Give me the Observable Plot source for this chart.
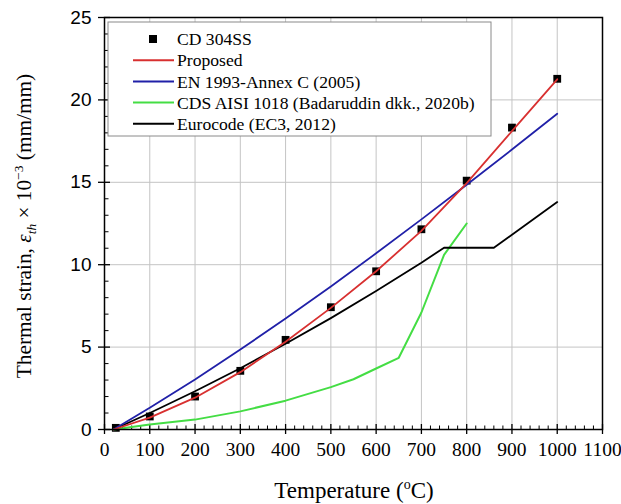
<!DOCTYPE html>
<html><head><meta charset="utf-8">
<script src="https://cdn.jsdelivr.net/npm/d3@7"></script>
<script src="https://cdn.jsdelivr.net/npm/@observablehq/plot@0.6"></script>
<style>body{margin:0;background:#fff}</style>
</head><body><div id="chart"></div>
<script>
// ---- data ----
const seriesNames = ["CD 304SS", "Proposed", "EN 1993-Annex C (2005)", "CDS AISI 1018 (Badaruddin dkk., 2020b)", "Eurocode (EC3, 2012)"];
const seriesColors = ["#000000", "#d83030", "#2020a8", "#44dd44", "#000000"];

const cdTemp = [25, 100, 200, 300, 400, 500, 600, 700, 800, 900, 1000];
const cdStrain = [0.1, 0.79, 2.0, 3.56, 5.44, 7.42, 9.6, 12.15, 15.1, 18.32, 21.28];

const propTemp = [20, 100, 200, 300, 400, 500, 600, 700, 800, 900, 1000];
const propStrain = [0, 0.72, 1.93, 3.48, 5.33, 7.38, 9.6, 12.05, 14.95, 18.1, 21.25];

const enTemp = [20, 100, 200, 300, 400, 500, 600, 700, 800, 900, 1000];
const enStrain = [0, 1.32, 3.04, 4.85, 6.73, 8.68, 10.69, 12.75, 14.85, 16.99, 19.16];

const cdsTemp = [20, 100, 200, 300, 400, 500, 550, 600, 650, 700, 750, 800];
const cdsStrain = [0, 0.3, 0.6, 1.1, 1.75, 2.57, 3.05, 3.7, 4.35, 7.1, 10.6, 12.5];

const ecTemp = [20, 100, 200, 300, 400, 500, 600, 700, 750, 860, 1000];
const ecStrain = [0, 1.0, 2.32, 3.72, 5.2, 6.76, 8.4, 10.12, 11.03, 11.03, 13.8];

const xMajor = [0, 100, 200, 300, 400, 500, 600, 700, 800, 900, 1000, 1100];
const xMinor = d3.range(0, 1101, 20).filter(v => v % 100 !== 0);
const yMajor = [0, 5, 10, 15, 20, 25];
const yMinor = d3.range(0, 25.01, 1).filter(v => v % 5 !== 0);

const toRows = (xs, ys) => xs.map((x, i) => ({x, y: ys[i]}));

const serif = "'Liberation Serif', 'Times New Roman', serif";
const sans = "'Liberation Sans', Arial, sans-serif";

const chart = Plot.plot({
  width: 621, height: 504,
  marginLeft: 104, marginRight: 19, marginTop: 17, marginBottom: 75,
  x: {domain: [0, 1100]},
  y: {domain: [0, 25]},
  style: {background: "white", color: "black"},
  marks: [
    Plot.gridX(xMajor.slice(1, -1), {stroke: "#c4c4c4", strokeOpacity: 1, strokeWidth: 1}),
    Plot.gridY(yMajor.slice(1, -1), {stroke: "#c4c4c4", strokeOpacity: 1, strokeWidth: 1}),
    Plot.axisX(xMajor, {tickSize: 5, tickPadding: 8, fontSize: 19.5, label: null, tickFormat: d => String(d), strokeWidth: 1.3}),
    Plot.axisX(xMajor, {tickSize: -5, tickFormat: () => "", label: null, strokeWidth: 1.3}),
    Plot.axisX(xMinor, {tickSize: -3.5, tickFormat: () => "", label: null, strokeWidth: 1}),
    Plot.axisY(yMajor, {tickSize: 6, tickPadding: 7, fontSize: 19, label: null, strokeWidth: 1.3}),
    Plot.axisY(yMajor, {tickSize: -6, tickFormat: () => "", label: null, strokeWidth: 1.3}),
    Plot.axisY(yMinor, {tickSize: -4.5, tickFormat: () => "", label: null, strokeWidth: 1}),
    Plot.dot(toRows(cdTemp, cdStrain), {x: "x", y: "y", symbol: "square", r: 4.4, fill: seriesColors[0]}),
    Plot.line(toRows(cdsTemp, cdsStrain), {x: "x", y: "y", stroke: seriesColors[3], strokeWidth: 2}),
    Plot.line(toRows(ecTemp, ecStrain), {x: "x", y: "y", stroke: seriesColors[4], strokeWidth: 1.8}),
    Plot.line(toRows(enTemp, enStrain), {x: "x", y: "y", stroke: seriesColors[2], strokeWidth: 1.8}),
    Plot.line(toRows(propTemp, propStrain), {x: "x", y: "y", stroke: seriesColors[1], strokeWidth: 1.8}),
    Plot.frame({stroke: "black", strokeWidth: 1.5})
  ]
});
document.getElementById("chart").appendChild(chart);

const svg = d3.select(chart);

// tick label fonts
svg.selectAll("text").each(function () {
  const g = this.closest("g[aria-label]");
  const lab = g ? g.getAttribute("aria-label") : "";
  if (lab.includes("x-axis")) {
    this.setAttribute("font-family", serif);
    this.style.fontFamily = serif; this.style.fontSize = "19.5px";
  } else if (lab.includes("y-axis")) {
    this.setAttribute("font-family", sans);
    this.style.fontFamily = sans; this.style.fontSize = "19px";
  }
});

// legend
const lg = svg.append("g").attr("text-anchor", "start");
lg.append("rect").attr("x", 108).attr("y", 22).attr("width", 383).attr("height", 114)
  .attr("fill", "white").attr("stroke", "#8a8a8a").attr("stroke-width", 1);
seriesNames.forEach((name, i) => {
  const cy = 39 + i * 21.2;
  if (i === 0) {
    lg.append("rect").attr("x", 149).attr("y", cy - 4).attr("width", 8).attr("height", 8).attr("fill", seriesColors[0]);
  } else {
    lg.append("line").attr("x1", 133).attr("x2", 174).attr("y1", cy).attr("y2", cy)
      .attr("stroke", seriesColors[i]).attr("stroke-width", 2);
  }
  lg.append("text").attr("x", 177).attr("y", cy).attr("dy", "0.35em").attr("text-anchor", "start")
    .attr("font-family", serif).attr("font-size", 17.6).attr("fill", "black").text(name);
});

// x axis title
const xt = svg.append("text").attr("x", 354).attr("y", 498).attr("text-anchor", "middle")
  .attr("font-family", serif).attr("font-size", 23).attr("fill", "black");
xt.append("tspan").text("Temperature (");
xt.append("tspan").attr("font-size", 14).attr("dy", -9).text("o");
xt.append("tspan").attr("dy", 9).text("C)");

// y axis title
const yt = svg.append("text").attr("transform", "translate(31,226) rotate(-90)").attr("text-anchor", "middle")
  .attr("font-family", serif).attr("font-size", 21.3).attr("fill", "black");
yt.append("tspan").text("Thermal strain, ");
yt.append("tspan").attr("font-style", "italic").text("ε");
yt.append("tspan").attr("font-style", "italic").attr("font-size", 13.5).attr("dy", 5).text("th");
yt.append("tspan").attr("dy", -5).text(" × 10");
yt.append("tspan").attr("font-size", 13.5).attr("dy", -8).text("−3");
yt.append("tspan").attr("dy", 8).text(" (mm/mm)");
</script>
</body></html>
